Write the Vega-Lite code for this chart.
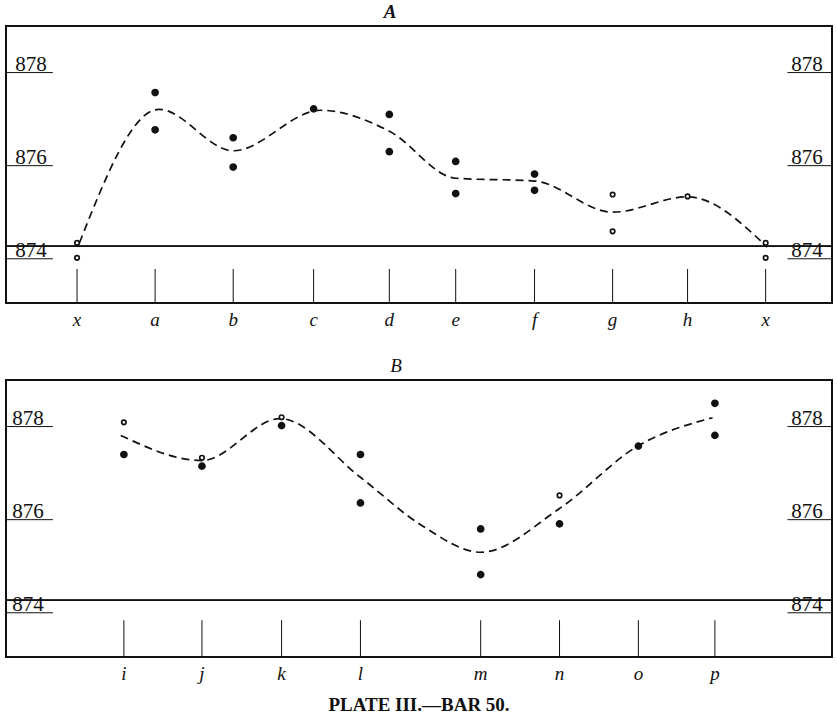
{
  "$schema": "https://vega.github.io/schema/vega-lite/v6.json",
  "background": "white",
  "padding": {"left": 4, "top": 2, "right": 4, "bottom": 4},
  "config": {
    "view": {"stroke": "#111", "strokeWidth": 2},
    "font": "Liberation Serif",
    "axis": {"labelFont": "Liberation Serif"}
  },
  "datasets": {
    "levels": [{"level": 878}, {"level": 876}, {"level": 874}],
    "stationsA": [
      {"station": "x", "pos": 0}, {"station": "a", "pos": 1.0}, {"station": "b", "pos": 2.0},
      {"station": "c", "pos": 3.03}, {"station": "d", "pos": 4.0}, {"station": "e", "pos": 4.85},
      {"station": "f", "pos": 5.86}, {"station": "g", "pos": 6.86}, {"station": "h", "pos": 7.82},
      {"station": "x", "pos": 8.82}
    ],
    "pointsA": [
      {"station": "x", "pos": 0, "value": 874.34, "kind": "ring"},
      {"station": "x", "pos": 0, "value": 874.02, "kind": "ring"},
      {"station": "a", "pos": 1.0, "value": 877.57, "kind": "solid"},
      {"station": "a", "pos": 1.0, "value": 876.77, "kind": "solid"},
      {"station": "b", "pos": 2.0, "value": 876.6, "kind": "solid"},
      {"station": "b", "pos": 2.0, "value": 875.97, "kind": "solid"},
      {"station": "c", "pos": 3.03, "value": 877.22, "kind": "solid"},
      {"station": "d", "pos": 4.0, "value": 877.1, "kind": "solid"},
      {"station": "d", "pos": 4.0, "value": 876.3, "kind": "solid"},
      {"station": "e", "pos": 4.85, "value": 876.09, "kind": "solid"},
      {"station": "e", "pos": 4.85, "value": 875.4, "kind": "solid"},
      {"station": "f", "pos": 5.86, "value": 875.82, "kind": "solid"},
      {"station": "f", "pos": 5.86, "value": 875.47, "kind": "solid"},
      {"station": "g", "pos": 6.86, "value": 875.38, "kind": "ring"},
      {"station": "g", "pos": 6.86, "value": 874.59, "kind": "ring"},
      {"station": "h", "pos": 7.82, "value": 875.34, "kind": "ring"},
      {"station": "x", "pos": 8.82, "value": 874.34, "kind": "ring"},
      {"station": "x", "pos": 8.82, "value": 874.02, "kind": "ring"}
    ],
    "curveA": [
      {"pos": 0.03, "value": 874.34}, {"pos": 1.05, "value": 877.21}, {"pos": 2.0, "value": 876.32},
      {"pos": 3.12, "value": 877.19}, {"pos": 4.0, "value": 876.74}, {"pos": 4.85, "value": 875.73},
      {"pos": 5.86, "value": 875.67}, {"pos": 6.86, "value": 875.0}, {"pos": 7.82, "value": 875.33},
      {"pos": 8.84, "value": 874.25}
    ],
    "stationsB": [
      {"station": "i", "pos": 0.6}, {"station": "j", "pos": 1.6}, {"station": "k", "pos": 2.62},
      {"station": "l", "pos": 3.63}, {"station": "m", "pos": 5.17}, {"station": "n", "pos": 6.18},
      {"station": "o", "pos": 7.19}, {"station": "p", "pos": 8.17}
    ],
    "pointsB": [
      {"station": "i", "pos": 0.6, "value": 878.09, "kind": "ring"},
      {"station": "i", "pos": 0.6, "value": 877.4, "kind": "solid"},
      {"station": "j", "pos": 1.6, "value": 877.33, "kind": "ring"},
      {"station": "j", "pos": 1.6, "value": 877.15, "kind": "solid"},
      {"station": "k", "pos": 2.62, "value": 878.2, "kind": "ring"},
      {"station": "k", "pos": 2.62, "value": 878.02, "kind": "solid"},
      {"station": "l", "pos": 3.63, "value": 877.4, "kind": "solid"},
      {"station": "l", "pos": 3.63, "value": 876.36, "kind": "solid"},
      {"station": "m", "pos": 5.17, "value": 875.8, "kind": "solid"},
      {"station": "m", "pos": 5.17, "value": 874.82, "kind": "solid"},
      {"station": "n", "pos": 6.18, "value": 876.52, "kind": "ring"},
      {"station": "n", "pos": 6.18, "value": 875.91, "kind": "solid"},
      {"station": "o", "pos": 7.19, "value": 877.58, "kind": "solid"},
      {"station": "p", "pos": 8.17, "value": 878.5, "kind": "solid"},
      {"station": "p", "pos": 8.17, "value": 877.81, "kind": "solid"}
    ],
    "curveB": [
      {"pos": 0.56, "value": 877.81}, {"pos": 1.6, "value": 877.27}, {"pos": 2.6, "value": 878.17},
      {"pos": 3.63, "value": 876.91}, {"pos": 4.42, "value": 875.87}, {"pos": 5.17, "value": 875.3},
      {"pos": 6.18, "value": 876.24}, {"pos": 7.19, "value": 877.59}, {"pos": 8.14, "value": 878.19}
    ]
  },
  "title": {
    "text": "PLATE III.—BAR 50.",
    "orient": "bottom",
    "anchor": "middle",
    "font": "Liberation Serif",
    "fontSize": 19,
    "fontWeight": "bold",
    "color": "#111",
    "offset": 11
  },
  "spacing": 25,
  "vconcat": [
    {
      "width": 826,
      "height": 277,
      "title": {"text": "A", "font": "Liberation Serif", "fontStyle": "italic", "fontWeight": "bold", "fontSize": 19, "color": "#111", "anchor": "middle", "dx": -29, "offset": 4},
      "layer": [
        {
          "data": {"name": "levels"},
          "mark": {"type": "rule", "color": "#111", "strokeWidth": 1.6},
          "encoding": {"y": {"datum": 874.27, "type": "quantitative", "scale": {"domain": [873.05, 879.0], "nice": false, "zero": false}, "axis": null}}
        },
        {
          "data": {"name": "levels"},
          "mark": {"type": "rule", "color": "#111", "strokeWidth": 1},
          "encoding": {
            "x": {"datum": -0.91, "type": "quantitative", "scale": {"domain": [-0.91, 9.67], "nice": false, "zero": false}, "axis": null},
            "x2": {"datum": -0.31},
            "y": {"field": "level", "type": "quantitative"}
          }
        },
        {
          "data": {"name": "levels"},
          "mark": {"type": "rule", "color": "#111", "strokeWidth": 1},
          "encoding": {
            "x": {"datum": 9.1, "type": "quantitative"},
            "x2": {"datum": 9.67},
            "y": {"field": "level", "type": "quantitative"}
          }
        },
        {
          "data": {"name": "levels"},
          "mark": {"type": "text", "align": "left", "baseline": "alphabetic", "dy": -2, "fontSize": 21, "font": "Liberation Serif", "color": "#111"},
          "encoding": {"x": {"datum": -0.79, "type": "quantitative"}, "y": {"field": "level", "type": "quantitative"}, "text": {"field": "level", "type": "quantitative", "format": "d"}}
        },
        {
          "data": {"name": "levels"},
          "mark": {"type": "text", "align": "right", "baseline": "alphabetic", "dy": -2, "fontSize": 21, "font": "Liberation Serif", "color": "#111"},
          "encoding": {"x": {"datum": 9.55, "type": "quantitative"}, "y": {"field": "level", "type": "quantitative"}, "text": {"field": "level", "type": "quantitative", "format": "d"}}
        },
        {
          "data": {"name": "stationsA"},
          "mark": {"type": "rule", "color": "#111", "strokeWidth": 1},
          "encoding": {"x": {"field": "pos", "type": "quantitative"}, "y": {"datum": 873.78}, "y2": {"datum": 873.05}}
        },
        {
          "data": {"name": "stationsA"},
          "mark": {"type": "text", "baseline": "middle", "dy": 17, "fontSize": 19, "font": "Liberation Serif", "fontStyle": "italic", "color": "#111", "clip": false},
          "encoding": {"x": {"field": "pos", "type": "quantitative"}, "y": {"datum": 873.05}, "text": {"field": "station"}}
        },
        {
          "data": {"name": "curveA"},
          "mark": {"type": "line", "interpolate": "monotone", "color": "#111", "strokeWidth": 1.7, "strokeDash": [8, 5]},
          "encoding": {"x": {"field": "pos", "type": "quantitative"}, "y": {"field": "value", "type": "quantitative"}}
        },
        {
          "data": {"name": "pointsA"},
          "mark": {"type": "point", "shape": "circle", "filled": false, "strokeWidth": 1.7, "stroke": "#111", "opacity": 1},
          "encoding": {
            "x": {"field": "pos", "type": "quantitative"},
            "y": {"field": "value", "type": "quantitative"},
            "fill": {"field": "kind", "type": "nominal", "scale": {"domain": ["solid", "ring"], "range": ["#111", "#ffffff"]}, "legend": null},
            "size": {"field": "kind", "type": "nominal", "scale": {"domain": ["solid", "ring"], "range": [36, 20]}, "legend": null}
          }
        }
      ]
    },
    {
      "width": 826,
      "height": 277,
      "title": {"text": "B", "font": "Liberation Serif", "fontStyle": "italic", "fontWeight": "normal", "fontSize": 19, "color": "#111", "anchor": "middle", "dx": -23, "offset": 4},
      "layer": [
        {
          "data": {"name": "levels"},
          "mark": {"type": "rule", "color": "#111", "strokeWidth": 1.6},
          "encoding": {"y": {"datum": 874.27, "type": "quantitative", "scale": {"domain": [873.05, 879.0], "nice": false, "zero": false}, "axis": null}}
        },
        {
          "data": {"name": "levels"},
          "mark": {"type": "rule", "color": "#111", "strokeWidth": 1},
          "encoding": {
            "x": {"datum": -0.91, "type": "quantitative", "scale": {"domain": [-0.91, 9.67], "nice": false, "zero": false}, "axis": null},
            "x2": {"datum": -0.31},
            "y": {"field": "level", "type": "quantitative"}
          }
        },
        {
          "data": {"name": "levels"},
          "mark": {"type": "rule", "color": "#111", "strokeWidth": 1},
          "encoding": {
            "x": {"datum": 9.1, "type": "quantitative"},
            "x2": {"datum": 9.67},
            "y": {"field": "level", "type": "quantitative"}
          }
        },
        {
          "data": {"name": "levels"},
          "mark": {"type": "text", "align": "left", "baseline": "alphabetic", "dy": -2, "fontSize": 21, "font": "Liberation Serif", "color": "#111"},
          "encoding": {"x": {"datum": -0.83, "type": "quantitative"}, "y": {"field": "level", "type": "quantitative"}, "text": {"field": "level", "type": "quantitative", "format": "d"}}
        },
        {
          "data": {"name": "levels"},
          "mark": {"type": "text", "align": "right", "baseline": "alphabetic", "dy": -2, "fontSize": 21, "font": "Liberation Serif", "color": "#111"},
          "encoding": {"x": {"datum": 9.55, "type": "quantitative"}, "y": {"field": "level", "type": "quantitative"}, "text": {"field": "level", "type": "quantitative", "format": "d"}}
        },
        {
          "data": {"name": "stationsB"},
          "mark": {"type": "rule", "color": "#111", "strokeWidth": 1},
          "encoding": {"x": {"field": "pos", "type": "quantitative"}, "y": {"datum": 873.84}, "y2": {"datum": 873.05}}
        },
        {
          "data": {"name": "stationsB"},
          "mark": {"type": "text", "baseline": "middle", "dy": 17, "fontSize": 19, "font": "Liberation Serif", "fontStyle": "italic", "color": "#111", "clip": false},
          "encoding": {"x": {"field": "pos", "type": "quantitative"}, "y": {"datum": 873.05}, "text": {"field": "station"}}
        },
        {
          "data": {"name": "curveB"},
          "mark": {"type": "line", "interpolate": "monotone", "color": "#111", "strokeWidth": 1.7, "strokeDash": [8, 5]},
          "encoding": {"x": {"field": "pos", "type": "quantitative"}, "y": {"field": "value", "type": "quantitative"}}
        },
        {
          "data": {"name": "pointsB"},
          "mark": {"type": "point", "shape": "circle", "filled": false, "strokeWidth": 1.7, "stroke": "#111", "opacity": 1},
          "encoding": {
            "x": {"field": "pos", "type": "quantitative"},
            "y": {"field": "value", "type": "quantitative"},
            "fill": {"field": "kind", "type": "nominal", "scale": {"domain": ["solid", "ring"], "range": ["#111", "#ffffff"]}, "legend": null},
            "size": {"field": "kind", "type": "nominal", "scale": {"domain": ["solid", "ring"], "range": [36, 20]}, "legend": null}
          }
        }
      ]
    }
  ]
}
